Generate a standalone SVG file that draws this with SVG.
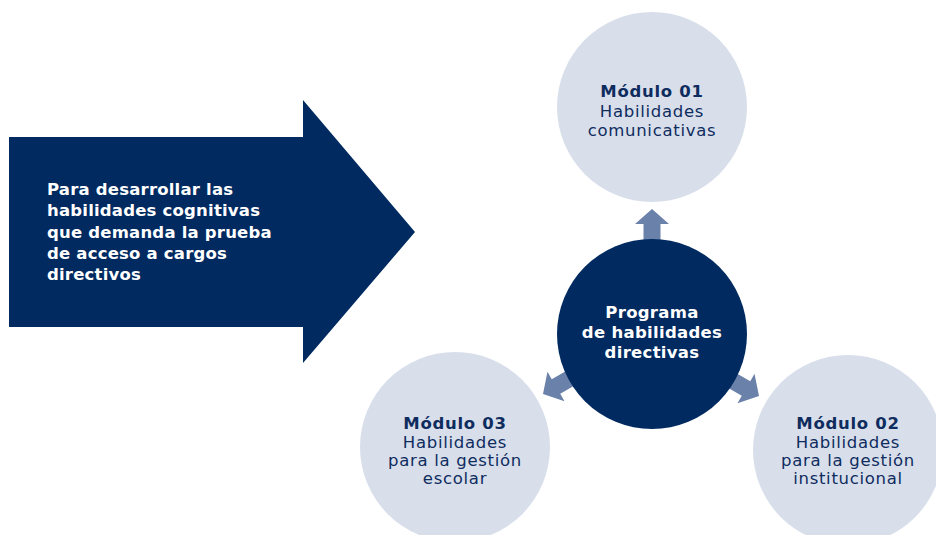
<svg xmlns="http://www.w3.org/2000/svg" width="936" height="535" viewBox="0 0 936 535">
<style>
.lt{fill:#d8dfeb}
.dk{fill:#002a60}
.ar{fill:#6a81aa}
.t{font-family:"DejaVu Sans","Liberation Sans",sans-serif;font-size:16.5px;letter-spacing:0.7px;text-anchor:middle;fill:#0f2c5e}
.b{font-weight:bold}
.w{fill:#ffffff;font-weight:bold;letter-spacing:0.3px}
.lw{font-family:"DejaVu Sans","Liberation Sans",sans-serif;font-size:16.5px;letter-spacing:0.2px;font-weight:bold;fill:#ffffff}
</style>
<rect width="936" height="535" fill="#ffffff"/>
<g id="big-arrow">
<polygon class="dk" points="9,137 303,137 303,100 415,232 303,363 303,327 9,327"/>
<text class="lw" x="47" y="195">Para desarrollar las</text>
<text class="lw" x="47" y="216">habilidades cognitivas</text>
<text class="lw" x="47" y="238">que demanda la prueba</text>
<text class="lw" x="47" y="259">de acceso a cargos</text>
<text class="lw" x="47" y="280">directivos</text>
</g>
<g id="modulo01">
<circle class="lt" cx="652" cy="107" r="95"/>
<text class="t b" x="652" y="97">Módulo 01</text>
<text class="t" x="652" y="117">Habilidades</text>
<text class="t" x="652" y="136">comunicativas</text>
</g>
<g id="modulo03">
<circle class="lt" cx="455" cy="447" r="95"/>
<text class="t b" x="455" y="429">Módulo 03</text>
<text class="t" x="455" y="448">Habilidades</text>
<text class="t" x="455" y="466">para la gestión</text>
<text class="t" x="455" y="484">escolar</text>
</g>
<g id="modulo02">
<circle class="lt" cx="848" cy="450" r="95"/>
<text class="t b" x="848" y="429">Módulo 02</text>
<text class="t" x="848" y="448">Habilidades</text>
<text class="t" x="848" y="466">para la gestión</text>
<text class="t" x="848" y="484">institucional</text>
</g>
<g id="connectors">
<defs>
<polygon id="sa" points="0,0 17,15 8.5,15 8.5,34 -8.5,34 -8.5,15 -17,15"/>
</defs>
<use href="#sa" class="ar" transform="translate(652,209)"/>
<use href="#sa" class="ar" transform="translate(543,394) rotate(-120)"/>
<use href="#sa" class="ar" transform="translate(759,396) rotate(120)"/>
</g>
<g id="programa">
<circle class="dk" cx="652" cy="334" r="95"/>
<text class="t w" x="652" y="318">Programa</text>
<text class="t w" x="652" y="338">de habilidades</text>
<text class="t w" x="652" y="358">directivas</text>
</g>
</svg>
